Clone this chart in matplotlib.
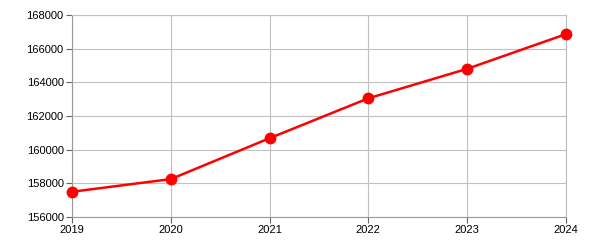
import matplotlib
matplotlib.use("Agg")
import matplotlib.pyplot as plt

years = [2019, 2020, 2021, 2022, 2023, 2024]
values = [157500, 158250, 160680, 163050, 164800, 166860]
yticks = [156000, 158000, 160000, 162000, 164000, 166000, 168000]

plt.rcParams['font.family'] = ['Liberation Sans', 'DejaVu Sans']

fig = plt.figure(figsize=(6, 2.5), dpi=100)
ax = fig.add_axes([0.12, 0.132, 0.823, 0.808])

ax.plot(years, values, color="#ff0000", lw=1.8, marker="o", ms=7.5,
        zorder=3, clip_on=False)

ax.set_xlim(2019, 2024)
ax.set_ylim(156000, 168000)
ax.set_xticks(years)
ax.set_xticklabels([str(y) for y in years])
ax.set_yticks(yticks)
ax.set_yticklabels([str(v) for v in yticks])
ax.grid(color="#c0c0c0", lw=0.8)
ax.set_axisbelow(True)

for s in ["top", "right"]:
    ax.spines[s].set_color("#c0c0c0")
    ax.spines[s].set_linewidth(0.8)
for s in ["left", "bottom"]:
    ax.spines[s].set_color("#999999")
    ax.spines[s].set_linewidth(0.8)
ax.tick_params(length=4, width=0.8, color="#666666", labelsize=8, pad=2)

fig.savefig("out.png", dpi=100)
